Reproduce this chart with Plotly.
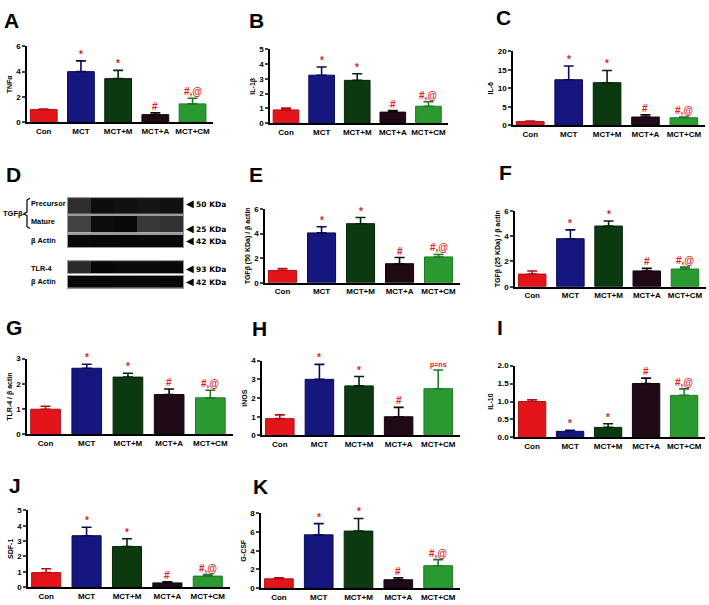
import plotly.graph_objects as go

W, H = 709, 605
groups = ["Con", "MCT", "MCT+M", "MCT+A", "MCT+CM"]
colors = ["#e3151b", "#16167f", "#0c3a10", "#1f0a16", "#2a9a30"]
edges = ["#b01016", "#0a0a5a", "#06260a", "#12050c", "#1e7a24"]

# ---- data (mean, SEM) ----
tnf_mean = [1.0, 4.0, 3.45, 0.6, 1.45]
tnf_sem = [0.05, 0.85, 0.65, 0.15, 0.45]
il1b_mean = [0.9, 3.25, 2.9, 0.75, 1.15]
il1b_sem = [0.12, 0.55, 0.45, 0.1, 0.3]
il6_mean = [1.0, 12.3, 11.5, 2.2, 2.0]
il6_sem = [0.1, 3.7, 3.3, 0.6, 0.2]
tgf50_mean = [1.0, 4.05, 4.8, 1.55, 2.1]
tgf50_sem = [0.15, 0.5, 0.5, 0.5, 0.2]
tgf25_mean = [1.0, 3.8, 4.8, 1.25, 1.4]
tgf25_sem = [0.25, 0.7, 0.4, 0.2, 0.15]
tlr4_mean = [1.0, 2.62, 2.27, 1.58, 1.45]
tlr4_sem = [0.12, 0.16, 0.15, 0.22, 0.3]
inos_mean = [0.9, 3.0, 2.65, 1.0, 2.5]
inos_sem = [0.2, 0.8, 0.5, 0.5, 1.0]
il10_mean = [1.0, 0.17, 0.28, 1.5, 1.17]
il10_sem = [0.05, 0.03, 0.1, 0.15, 0.18]
sdf1_mean = [0.95, 3.35, 2.65, 0.28, 0.72]
sdf1_sem = [0.25, 0.55, 0.5, 0.07, 0.1]
gcsf_mean = [1.0, 5.7, 6.1, 0.9, 2.4]
gcsf_sem = [0.1, 1.2, 1.35, 0.2, 0.65]

marks_std = ["", "*", "*", "#", "#,@"]
marks_inos = ["", "*", "*", "#", "p=ns"]
marks_il10 = ["", "*", "*", "#", "#,@"]

# western blot lane intensities (0 = faint, 1 = strong)
blot_precursor = [0.5, 0.9, 0.85, 0.8, 0.85]
blot_mature = [0.35, 0.92, 0.95, 0.42, 0.47]
blot_actin1 = [0.95, 0.97, 0.96, 0.95, 0.96]
blot_tlr4 = [0.55, 0.97, 0.94, 0.93, 0.95]
blot_actin2 = [0.97, 0.97, 0.96, 0.96, 0.97]

def px(x):
    return x / W

def py(y):
    return 1 - y / H

# letter, ytitle, mean, sem, marks, ymax, dtick, (xl, xr, ytop, ybase), tickformat
panels = [
    ("A", "TNFα", tnf_mean, tnf_sem, marks_std, 6, 2, (27, 213, 43, 120), ""),
    ("B", "IL-1β", il1b_mean, il1b_sem, marks_std, 5, 1, (270, 448, 46, 121), ""),
    ("C", "IL-6", il6_mean, il6_sem, marks_std, 20, 5, (513, 705, 48, 123), ""),
    ("E", "TGFβ (50 KDa) / β actin", tgf50_mean, tgf50_sem, marks_std, 6, 2, (265, 460, 208, 283), ""),
    ("F", "TGFβ (25 KDa) / β actin", tgf25_mean, tgf25_sem, marks_std, 6, 2, (515, 706, 210, 287), ""),
    ("G", "TLR-4 / β actin", tlr4_mean, tlr4_sem, marks_std, 3, 1, (27, 233, 360, 437), ""),
    ("H", "iNOS", inos_mean, inos_sem, marks_inos, 4, 1, (262, 460, 362, 438), ""),
    ("I", "IL-10", il10_mean, il10_sem, marks_il10, 2.0, 0.5, (515, 705, 367, 440), ".1f"),
    ("J", "SDF-1", sdf1_mean, sdf1_sem, marks_std, 5, 1, (28, 230, 514, 592), ""),
    ("K", "G-CSF", gcsf_mean, gcsf_sem, marks_std, 8, 2, (261, 460, 517, 593), ""),
]

letter_pos = {"A": (11, 17), "B": (256, 17), "C": (503, 14), "D": (13, 173),
              "E": (256, 173), "F": (505, 171), "G": (14, 328), "H": (259, 329),
              "I": (500, 328), "J": (15, 489), "K": (260, 490)}

FONT = "Liberation Sans, Arial, sans-serif"
fig = go.Figure()
layout = dict(width=W, height=H, margin=dict(l=0, r=0, t=0, b=0),
              paper_bgcolor="white", plot_bgcolor="white", barmode="overlay",
              showlegend=False, font=dict(family=FONT, color="black"))
annotations = []
shapes = []

for i, (letter, ytitle, mean, sem, marks, ymax, dtick, geo, tf) in enumerate(panels, start=1):
    xl, xr, yt, yb = geo
    xa = "x" if i == 1 else f"x{i}"
    ya = "y" if i == 1 else f"y{i}"
    for g, m, s, c, e in zip(groups, mean, sem, colors, edges):
        fig.add_trace(go.Bar(
            x=[g], y=[m], width=0.72, xaxis=xa, yaxis=ya,
            marker=dict(color=c, line=dict(color=e, width=1)),
            error_y=dict(type="data", array=[s], arrayminus=[0], symmetric=False,
                         color=e, thickness=1.6, width=5),
        ))
    for g, m, s, mk in zip(groups, mean, sem, marks):
        if mk:
            annotations.append(dict(
                x=g, y=m + s, xref=xa, yref=ya, text=f"<b>{mk}</b>", showarrow=False,
                yanchor="bottom", yshift=-1,
                font=dict(size=10 if mk != "p=ns" else 7, color="#e0201c", family=FONT)))
    layout["xaxis" if i == 1 else f"xaxis{i}"] = dict(
        domain=[px(xl), px(xr)], anchor=ya, type="category", categoryorder="array",
        categoryarray=groups, range=[-0.45, 4.55], showline=True, linecolor="black",
        linewidth=1.5, ticks="", showgrid=False, zeroline=False,
        tickfont=dict(size=8, family=FONT, weight="bold"), fixedrange=True)
    layout["yaxis" if i == 1 else f"yaxis{i}"] = dict(
        domain=[py(yb), py(yt)], anchor=xa, range=[0, ymax], dtick=dtick, tick0=0,
        tickformat=tf, showline=True, linecolor="black", linewidth=1.5, ticks="outside",
        ticklen=3, tickwidth=1.5, showgrid=False, zeroline=False,
        tickfont=dict(size=8, family=FONT, weight="bold"),
        title=dict(text=ytitle, font=dict(size=7, family=FONT, weight="bold"), standoff=3),
        fixedrange=True)

# ---- western blot (panel D) ----
strips = [
    (blot_precursor, 197, 213),
    (blot_mature, 215, 232),
    (blot_actin1, 234, 247),
    (blot_tlr4, 261, 273),
    (blot_actin2, 276, 288),
]
n0 = len(panels)
for j, (vals, y0, y1) in enumerate(strips, start=n0 + 1):
    xa, ya = f"x{j}", f"y{j}"
    fig.add_trace(go.Heatmap(
        z=[vals], xaxis=xa, yaxis=ya, zmin=0, zmax=1, showscale=False,
        colorscale=[[0, "#6e6e6e"], [0.5, "#2e2e2e"], [1, "#050505"]], hoverinfo="skip"))
    layout[f"xaxis{j}"] = dict(domain=[px(68), px(183)], anchor=ya, showticklabels=False,
                               ticks="", showgrid=False, zeroline=False, showline=True,
                               mirror=True, linecolor="#9a9a9a", linewidth=1, fixedrange=True)
    layout[f"yaxis{j}"] = dict(domain=[py(y1), py(y0)], anchor=xa, showticklabels=False,
                               ticks="", showgrid=False, zeroline=False, showline=True,
                               mirror=True, linecolor="#9a9a9a", linewidth=1, fixedrange=True)

blot_left = [("Precursor", 29, 203), ("Mature", 29, 221), ("β Actin", 29, 240),
             ("TLR-4", 29, 268), ("β Actin", 29, 282)]
for t, x, y in blot_left:
    annotations.append(dict(x=px(x), y=py(y), xref="paper", yref="paper", text=f"<b>{t}</b>",
                            showarrow=False, xanchor="left", yanchor="middle",
                            font=dict(size=7.3, family=FONT)))
annotations.append(dict(x=px(0.5), y=py(213), xref="paper", yref="paper", text="<b>TGFβ-</b>",
                        showarrow=False, xanchor="left", yanchor="middle", font=dict(size=7.5, family=FONT)))
blot_right = [("50 KDa", 203), ("25 KDa", 228), ("42 KDa", 240), ("93 KDa", 268), ("42 KDa", 282)]
for t, y in blot_right:
    annotations.append(dict(x=px(184), y=py(y), xref="paper", yref="paper",
                            text=f"<span style='font-size:10px'>◀</span> <b>{t}</b>", showarrow=False,
                            xanchor="left", yanchor="middle",
                            font=dict(size=7.5, family="DejaVu Sans, " + FONT)))
# bracket
shapes.append(dict(type="path", xref="paper", yref="paper", line=dict(color="black", width=1.2),
                   path=f"M {px(30)},{py(197)} L {px(27)},{py(199)} L {px(27)},{py(211)} L {px(24)},{py(213)} "
                        f"L {px(27)},{py(215)} L {px(27)},{py(226)} L {px(30)},{py(228)}"))

for L, (x, y) in letter_pos.items():
    annotations.append(dict(x=px(x), y=py(y), xref="paper", yref="paper", text=f"<b>{L}</b>",
                            showarrow=False, xanchor="center", yanchor="middle",
                            font=dict(size=21, family=FONT)))

layout["annotations"] = annotations
layout["shapes"] = shapes
fig.update_layout(**layout)
fig.write_html("out.html", config={"displayModeBar": False},
               post_script="document.body.style.margin='0';")
